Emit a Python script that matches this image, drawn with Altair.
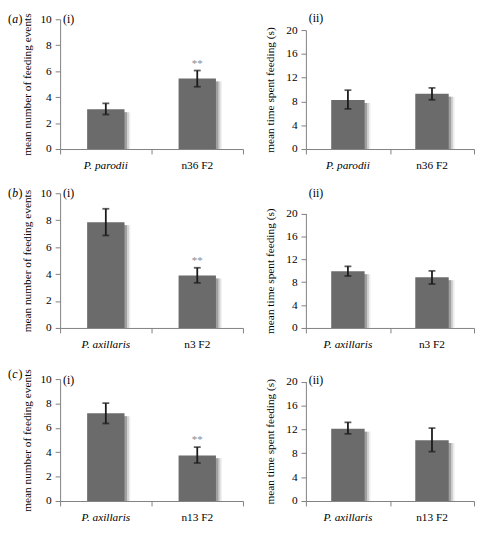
import altair as alt
import pandas as pd

FONT = "Liberation Serif"

# ---- data ----
cats_a = ["P. parodii", "n36 F2"]
cats_b = ["P. axillaris", "n3 F2"]
cats_c = ["P. axillaris", "n13 F2"]

events_a = [3.07, 5.43]
events_a_lo = [2.66, 4.80]
events_a_hi = [3.52, 6.05]
time_a = [8.23, 9.29]
time_a_lo = [6.75, 8.28]
time_a_hi = [9.90, 10.28]

events_b = [7.85, 3.90]
events_b_lo = [6.87, 3.35]
events_b_hi = [8.85, 4.47]
time_b = [9.90, 8.85]
time_b_lo = [9.08, 7.68]
time_b_hi = [10.76, 9.97]

events_c = [7.19, 3.74]
events_c_lo = [6.36, 3.12]
events_c_hi = [8.03, 4.42]
time_c = [12.10, 10.19]
time_c_lo = [11.25, 8.27]
time_c_hi = [13.17, 12.21]

sig_events = ["", "**"]
sig_time = ["", ""]

events_ticks = [0, 2, 4, 6, 8, 10]
time_ticks = [0, 4, 8, 12, 16, 20]

title_events = "mean number of feeding events"
title_time = "mean time spent feeding (s)"


def text_layer(txt, x, y, style="normal", size=12):
    return alt.Chart(pd.DataFrame({"t": [txt]})).mark_text(
        align="left", baseline="middle", font=FONT, fontSize=size,
        fontStyle=style, color="black"
    ).encode(x=alt.value(x), y=alt.value(y), text="t:N")


def panel(cats, mean, lo, hi, sig, ticks, W, H, top, ytitle, bar_size,
          tag, tag_y, letter=None, letter_y=0, tpad=8):
    df = pd.DataFrame({"cat": cats, "mean": mean, "lo": lo, "hi": hi, "sig": sig})
    xenc = alt.X(
        "cat:N", sort=cats,
        scale=alt.Scale(paddingInner=0, paddingOuter=0),
        axis=alt.Axis(title=None, labels=False, tickBand="extent"),
    )
    yscale = alt.Scale(domain=[ticks[0], ticks[-1]], nice=False, range=[H, top])
    yaxis = alt.Axis(values=ticks, title=ytitle, titlePadding=tpad, labelPadding=4,
                     labelFontSize=11.5, titleFontSize=11.5)

    def Y(field):
        return alt.Y(f"{field}:Q", scale=yscale, axis=yaxis)

    base = alt.Chart(df)
    layers = []
    for off, col in [(6, "#efefef"), (4.5, "#d2d2d2"), (2.5, "#a0a0a0")]:
        layers.append(base.mark_bar(size=bar_size, color=col, xOffset=off, yOffset=3,
                                    clip=True).encode(x=xenc, y=Y("mean")))
    layers.append(base.mark_bar(size=bar_size, color="#6b6b6b").encode(x=xenc, y=Y("mean")))
    layers.append(base.mark_rule(color="#1a1a1a", strokeWidth=1.8).encode(
        x=xenc, y=Y("lo"), y2=alt.Y2("hi")))
    for f in ["lo", "hi"]:
        layers.append(base.mark_tick(color="#1a1a1a", thickness=1.8, size=7,
                                     orient="horizontal").encode(x=xenc, y=Y(f)))
    layers.append(base.mark_text(baseline="middle", dy=-7, font=FONT, fontSize=11,
                                 color="#8a8a8a").encode(x=xenc, y=Y("hi"), text="sig:N"))
    # category labels (species names in italics)
    for test, style in [("indexof(datum.cat, 'P.') == 0", "italic"),
                        ("indexof(datum.cat, 'P.') != 0", "normal")]:
        layers.append(base.transform_filter(test).mark_text(
            baseline="alphabetic", font=FONT, fontSize=11.5, fontStyle=style,
            color="black").encode(x=xenc, y=alt.value(H + 20), text="cat:N"))
    layers.append(text_layer(tag, 3, tag_y))
    if letter:
        layers.append(text_layer("(", -53, letter_y))
        layers.append(text_layer(letter, -48.8, letter_y, style="italic"))
        layers.append(text_layer(")", -42.3, letter_y))
    return alt.layer(*layers).properties(width=W, height=H)


W1, W2 = 186, 171
BS1, BS2 = 38, 34

panels = [
    panel(cats_a, events_a, events_a_lo, events_a_hi, sig_events, events_ticks,
          W1, 132, 0, title_events, BS1, "(i)", 0, "a", 0),
    panel(cats_a, time_a, time_a_lo, time_a_hi, sig_time, time_ticks,
          W2, 132, 11, title_time, BS2, "(ii)", -1, tpad=10),
    panel(cats_b, events_b, events_b_lo, events_b_hi, sig_events, events_ticks,
          W1, 137, 0, title_events, BS1, "(i)", -0.5, "b", -0.5),
    panel(cats_b, time_b, time_b_lo, time_b_hi, sig_time, time_ticks,
          W2, 137, 20.5, title_time, BS2, "(ii)", -0.5, tpad=10),
    panel(cats_c, events_c, events_c_lo, events_c_hi, sig_events, events_ticks,
          W1, 131, 7, title_events, BS1, "(i)", 7.5, "c", 2),
    panel(cats_c, time_c, time_c_lo, time_c_hi, sig_time, time_ticks,
          W2, 131, 9.5, title_time, BS2, "(ii)", 7.5, tpad=10),
]

chart = alt.concat(
    *panels, columns=2, spacing={"row": 45, "column": 64}, bounds="flush", align="each"
).properties(padding=0).configure_view(stroke=None).configure_axis(
    labelFont=FONT, titleFont=FONT, labelColor="black", titleColor="black",
    titleFontWeight="normal", domainColor="#808080", tickColor="#808080",
    tickSize=5, grid=False, domainWidth=1, tickWidth=1,
)

chart.save("out.html", embed_options={"renderer": "svg", "actions": False})
